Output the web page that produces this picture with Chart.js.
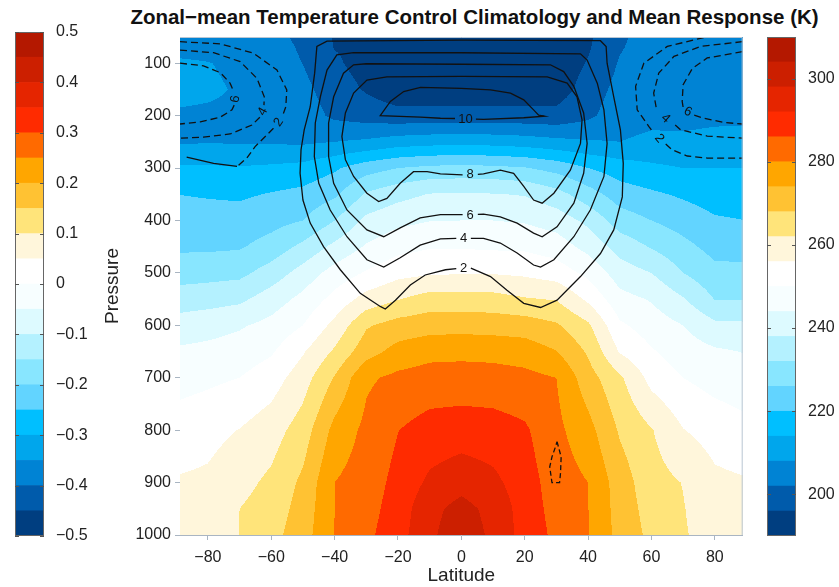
<!DOCTYPE html>
<html><head><meta charset="utf-8">
<script src="https://cdn.jsdelivr.net/npm/chart.js@4.4.1/dist/chart.umd.min.js"></script>
<style>
html,body{margin:0;padding:0;background:#fff;width:839px;height:587px;overflow:hidden;font-family:"Liberation Sans",Arial,sans-serif}
#title{position:absolute;left:0;top:5px;width:949px;text-align:center;font-weight:bold;font-size:20.5px;line-height:24px;color:#111;white-space:nowrap}
canvas{position:absolute;top:0}
</style></head><body>
<div id="title">Zonal−mean Temperature Control Climatology and Mean Response (K)</div>
<canvas id="cbL" width="100" height="587" style="left:0;width:100px;height:587px"></canvas>
<canvas id="main" width="747" height="587" style="left:92px;width:747px;height:587px"></canvas>
<canvas id="cbR" width="82" height="587" style="left:757px;width:82px;height:587px"></canvas>
<script>
// ---------- data ----------
const lats = [-90,-80,-70,-60,-50,-40,-30,-20,-10,0,10,20,30,40,50,60,70,80,90];
const levels = [50,70,100,150,200,250,300,350,400,450,500,550,600,650,700,800,900,950,1000];
// zonal-mean temperature (K) per latitude, values at each pressure level above
const tS90 = [205,206,209,209.7,207.3,207.4,215,220,222.5,225,229.3,235,240.5,244.9,247.7,252.8,256.5,257.2,258];
const tS80 = [205,206,208.2,209,207,207.6,214.8,219.5,222.4,225,229.8,235.7,241.6,245.7,248.8,254.1,257.1,258.1,259];
const tS70 = [204.5,205.5,206.8,207.4,207,207.5,214.5,219.1,222.4,225.4,230.4,236.7,243.3,246.8,250,256.2,260.1,262,262.1];
const tS60 = [204,204.5,205,205.5,206,207.3,215.1,220.4,223.9,228.4,234.7,241,245.8,249.3,253.1,259.3,263.3,264.7,266];
const tS50 = [200.5,201.2,201.9,203.6,205,207,216,221.7,226,233.5,240.4,245.7,250,255.4,259.3,264.9,269.3,270.4,271.4];
const tS40 = [195.5,195.8,197,199,200.8,208,219.1,224.9,232,239.5,246.4,251.9,257.7,262.9,268.5,275.9,280,280,280.1];
const tS30 = [195.5,194.5,193.5,195.4,199.3,209,223.4,232.8,239.5,244.6,250.6,258.3,267.3,271.6,279,281.5,283,283.8,284.6];
const tS20 = [194,193,191.3,192.3,198,211,226,236,242.4,248,254.1,261.7,270.5,276.1,281.4,285.9,287.8,288.7,289.6];
const tS10 = [194,193,191,192,198.2,211.8,227.4,238.3,243.8,249.5,255.2,264.6,271.6,278.1,282.6,288.3,293.2,296.3,296.9];
const tEQ  = [194,193,191,192,198.3,212,227.8,238.5,244,249.5,255.6,264.5,271.8,278.4,282.7,288.9,295.9,300,301.5];
const tN10 = [194,193,191,192,198.2,211.8,227.4,238.3,244,249.1,255.6,264.2,271.5,278.1,282.5,288.5,293.5,296.2,296.8];
const tN20 = [194,193,191.3,192.3,198.1,211,226.4,237.6,243.4,248.9,254.9,262.5,271.1,277.2,281.7,286.9,288.8,289.3,289.7];
const tN30 = [195,193.5,192,193,197.8,209.7,223.9,234.3,241.3,247.1,253.2,261.6,268.7,274.2,280,281.5,283.1,283.8,284.6];
const tN40 = [195,195.4,196.4,198.6,200.7,208.5,220,228.6,236.5,242,248.5,254.8,263.1,267.2,270.6,276.1,280,280.1,280.3];
const tN50 = [201,201.5,202.5,204,205.5,208,217,223,229,235.6,241,246,251,255.5,263.1,267.3,271,271.5,272];
const tN60 = [204.5,204.8,205,205.5,206.5,209.2,215.2,221,226,231.5,238,243.5,247.2,250.6,253.9,262.4,264.4,265.5,266.5];
const tN70 = [205,205.2,205.5,206,206.5,209,214,219.1,223.4,227.7,232,238.5,244,247,250,256.2,261.8,262.3,262.6];
const tN80 = [205,205.3,205.6,206.3,207,209.4,214,217.3,220.7,224,227.7,231.8,239.4,244.9,247.7,253.6,257.3,258.2,259.2];
const tN90 = [205,205.3,205.6,206.3,207,209.5,214,217,220,223.8,227.5,231.8,239,243.7,246.6,251.6,256.6,257.2,258];
const tempField = [tS90,tS80,tS70,tS60,tS50,tS40,tS30,tS20,tS10,tEQ,tN10,tN20,tN30,tN40,tN50,tN60,tN70,tN80,tN90];

// contour levels of the shading (K) and their colours
const tempEdges = [190,196,202,208,214,220,226,232,238,244,250,256,262,268,274,280,286,292,298,304,310];
const respEdges = [-0.5,-0.45,-0.4,-0.35,-0.3,-0.25,-0.2,-0.15,-0.1,-0.05,0,0.05,0.1,0.15,0.2,0.25,0.3,0.35,0.4,0.45,0.5];
const bandColors = ['#003e80','#005bab','#0083d4','#00a6ec','#00bfff','#62d4ff','#88e6ff','#b4f1ff','#ddfaff','#f7feff',
                    '#ffffff','#fff6db','#ffe47a','#ffc233','#ffa600','#ff6a00','#ff2b00','#e52500','#cc1f00','#b41800'];

// tick labels
const latTicks = [-80,-60,-40,-20,0,20,40,60,80];
const presTicks = [100,200,300,400,500,600,700,800,900,1000];
const tempTicks = [200,220,240,260,280,300];
const respTicks = [-0.5,-0.4,-0.3,-0.2,-0.1,0,0.1,0.2,0.3,0.4,0.5];

// mean response contours: [latitude, pressure]; null = break for a label
const resp10 = [[4.6,206.5],[7,207],[19.7,204],[26.2,201],[24.4,199],[22.8,189],[19.7,170],[15.5,157],[9.2,151],[0,148],[-12.9,146],[-18.2,154],[-22.4,173],[-25.6,200],[-12.9,203],[-6.6,205],[-2,205.5]];
const resp8 = [[5.2,312],[7,311],[12.3,304],[16.5,310],[19.7,335],[22.8,361],[25.5,367],[29.2,348],[34.4,304],[37.6,253],[38.1,208],[36.5,164],[33.4,138],[27.1,126],[0,125],[-23.5,126],[-29.8,132],[-34,157],[-36.6,195],[-37.7,240],[-36.6,284],[-34,316],[-29.8,348],[-26.1,364],[-23.5,358],[-19.3,329],[-15.1,307],[-10.8,307],[-6.6,311],[0.4,313]];
const resp6 = [[5.2,388.5],[7,388],[12.3,393],[17.6,405],[22.8,424],[25.5,431],[30.2,412],[35.5,367],[38.6,310],[39.7,253],[38.6,195],[35.5,144],[32.3,116],[28.1,103],[0,102],[-30,101],[-34,103],[-37.2,119],[-40.3,164],[-41.9,214],[-41.9,278],[-40.3,329],[-36.1,380],[-29.8,418],[-24.5,431],[-19.3,414],[-13,395],[-6.6,389],[0.4,389]];
const resp4 = [[3,434],[7,434],[12.3,443],[17.6,462],[22.8,485],[25,489],[29.2,475],[35.5,431],[40.7,380],[45,316],[46,253],[45,189],[42.9,138],[39.7,94],[37.6,82],[0,80],[-34,80],[-39.3,84],[-42.4,113],[-44.5,164],[-46.1,214],[-46.4,278],[-45,329],[-41.4,380],[-36.1,431],[-29.8,475],[-24.5,489],[-19.3,471],[-13,447],[-6.6,435],[-1.6,434]];
const resp2 = [[3,491],[9.2,507],[14.4,533],[19.7,558],[25,566],[30.2,552],[37.6,507],[43.9,463],[48.1,418],[50.8,355],[51.1,291],[50.2,227],[48.1,164],[46,100],[45.7,68],[43.9,57],[0,56],[-42.4,58],[-45.6,68],[-46.3,119],[-47.7,183],[-49.6,227],[-50.6,265],[-50.9,310],[-50,361],[-47.7,405],[-43.5,450],[-38.2,494],[-31.9,539],[-25.6,564],[-24,569],[-20.8,552],[-16.1,523],[-11.4,504],[-5,494],[-1.6,492]];
const respM6S = [[-88.8,100],[-81.4,105],[-76.1,118],[-73,138],[-71.8,155],null,[-71.7,180],[-72.4,189],[-76.1,203],[-82.4,212],[-88.8,216]];
const respM4S = [[-88.8,75],[-78.2,80],[-69.8,97],[-64.5,129],[-62.2,164],[-62.3,180],null,[-63.6,203],[-66.1,218],[-73,235],[-81.4,241],[-88.8,243]];
const respM2S = [[-88.8,59],[-76.1,63],[-65.6,81],[-58.2,113],[-55.1,151],[-55.4,183],[-56.4,200],null,[-59.3,224],[-61.4,237],[-65.1,259],[-67.7,281],[-70.8,297]];
const respM2Sb = [[-70.8,297],[-78.2,291],[-86.7,279]];
const respM6N = [[88.7,78],[77.6,90],[72.9,110],[70,141],[69.7,173],[70,184],null,[73.5,199],[76.5,205],[82.8,213],[88.7,216]];
const respM4N = [[88.7,59],[75.5,68],[67.1,87],[62.3,119],[60.7,157],[61.5,185],null,[67.5,218],[69.2,227],[77.6,239],[88.7,243]];
const respM2N = [[76.5,51],[65,68],[57.6,100],[55,144],[55.5,189],[59.2,221],[60.5,231],null,[64.5,254],[66.5,265],[71.3,277],[77.6,281],[88.7,281]];
const respM2Low = [[30.2,822],[31.5,851],[31.3,882],[31,900],[28.6,900],[27.9,870],[28.6,851],[29.7,832],[30.2,822]];
const contourLabels = [
  {text:'10',lat:1.3,p:206},{text:'8',lat:2.8,p:312},{text:'6',lat:2.8,p:389},{text:'4',lat:0.7,p:434},{text:'2',lat:0.7,p:491},
  {text:'6',lat:-71.5,p:168,rot:-80},{text:'4',lat:-62.8,p:192,rot:-62},{text:'2',lat:-57.8,p:212,rot:-55},
  {text:'6',lat:71.6,p:192,rot:28},{text:'4',lat:64.6,p:205,rot:42},{text:'2',lat:62.6,p:243,rot:50}
];

// ---------- helpers ----------
const FONT = "'Liberation Sans', Arial, sans-serif";
const minus = s => String(s).replace('-', '\u2212');
function hexRgb(h){return [parseInt(h.slice(1,3),16),parseInt(h.slice(3,5),16),parseInt(h.slice(5,7),16)];}
const bandRgb = bandColors.map(hexRgb);
function bandOf(t){
  for (let k=1;k<tempEdges.length;k++){ if (t < tempEdges[k]) return Math.max(0,k-1); }
  return tempEdges.length-2;
}
function toPts(arr){
  const out=[]; let last=[0,0];
  arr.forEach(q=>{ if(q===null){out.push({x:last[0],y:null});} else {out.push({x:q[0],y:q[1]}); last=q;} });
  return out;
}

const fieldPlugin = {
  id:'field',
  beforeDatasetsDraw(chart){
    const {ctx, chartArea:a, scales:{x,y}} = chart;
    const L=Math.round(a.left), T=Math.round(a.top);
    const w=Math.round(a.right)-L, h=Math.round(a.bottom)-T;
    const img = ctx.createImageData(w,h);
    const ci=[], cf=[];
    for(let i=0;i<w;i++){
      const lat=x.getValueForPixel(L+i+0.5);
      let k=0; while(k<lats.length-2 && lat>lats[k+1]) k++;
      ci.push(k); cf.push((lat-lats[k])/(lats[k+1]-lats[k]));
    }
    for(let j=0;j<h;j++){
      const p=y.getValueForPixel(T+j+0.5);
      let m=0; while(m<levels.length-2 && p>levels[m+1]) m++;
      const fy=(p-levels[m])/(levels[m+1]-levels[m]);
      for(let i=0;i<w;i++){
        const c0=tempField[ci[i]], c1=tempField[ci[i]+1];
        const v0=c0[m]*(1-fy)+c0[m+1]*fy, v1=c1[m]*(1-fy)+c1[m+1]*fy;
        const t=v0*(1-cf[i])+v1*cf[i];
        const rgb=bandRgb[bandOf(t)];
        const o=(j*w+i)*4;
        img.data[o]=rgb[0]; img.data[o+1]=rgb[1]; img.data[o+2]=rgb[2]; img.data[o+3]=255;
      }
    }
    ctx.putImageData(img,L,T);
  },
  afterDatasetsDraw(chart){
    const {ctx, chartArea:a, scales:{x,y}} = chart;
    ctx.save();
    ctx.font = "13px "+FONT; ctx.fillStyle='#111'; ctx.textAlign='center'; ctx.textBaseline='middle';
    contourLabels.forEach(l=>{
      ctx.save();
      ctx.translate(x.getPixelForValue(l.lat), y.getPixelForValue(l.p));
      if(l.rot) ctx.rotate(l.rot*Math.PI/180);
      ctx.fillText(l.text,0,0.5);
      ctx.restore();
    });
    ctx.strokeStyle='#b9c6d3'; ctx.lineWidth=1;
    ctx.beginPath(); ctx.moveTo(a.left,a.top+0.5); ctx.lineTo(a.right-0.5,a.top+0.5); ctx.lineTo(a.right-0.5,a.bottom); ctx.stroke();
    ctx.restore();
  }
};

function lineDs(arr, dashed, dash){
  return {data:toPts(arr), showLine:true, pointRadius:0, borderColor:'#111', borderWidth:1.3,
          borderDash: dashed ? (dash||[7,4]) : [], spanGaps:false, fill:false, tension:0};
}

const axisColor = '#a9b5c2';
new Chart(document.getElementById('main'), {
  type:'scatter',
  data:{datasets:[
    lineDs(resp10), lineDs(resp8), lineDs(resp6), lineDs(resp4), lineDs(resp2),
    lineDs(respM6S,true), lineDs(respM4S,true), lineDs(respM2S,true), lineDs(respM2Sb,false),
    lineDs(respM6N,true), lineDs(respM4N,true), lineDs(respM2N,true), lineDs(respM2Low,true,[5,3])
  ]},
  options:{
    responsive:false, animation:false, events:[],
    layout:{padding:{left:0,right:96.3,top:37,bottom:0}},
    plugins:{legend:{display:false}, tooltip:{enabled:false}},
    scales:{
      x:{type:'linear', min:-88.8, max:88.8,
         afterBuildTicks(s){ s.ticks = latTicks.map(v=>({value:v})); },
         afterFit(s){ s.height = 52; },
         ticks:{font:{size:16,family:FONT}, color:'#222', padding:8, maxRotation:0, callback:v=>minus(v)},
         grid:{drawOnChartArea:false, drawTicks:true, tickLength:5, color:axisColor},
         border:{display:true, color:axisColor},
         title:{display:true, text:'Latitude', font:{size:19,family:FONT}, color:'#222', padding:{top:0,bottom:0}}},
      y:{type:'linear', reverse:true, min:50, max:1000,
         afterBuildTicks(s){ s.ticks = presTicks.map(v=>({value:v})); },
         afterFit(s){ s.width = 88; },
         ticks:{font:{size:16,family:FONT}, color:'#222', padding:4, callback:v=>String(v)},
         grid:{drawOnChartArea:false, drawTicks:true, tickLength:5, color:axisColor},
         border:{display:true, color:axisColor},
         title:{display:true, text:'Pressure', font:{size:19,family:FONT}, color:'#222', padding:{top:9,bottom:0}}}
    }
  },
  plugins:[fieldPlugin]
});

// ---------- colour bars ----------
const cbFrame = {
  id:'cbFrame',
  afterDraw(chart){
    const {ctx, chartArea:a} = chart; const s = chart.scales.y;
    ctx.save(); ctx.strokeStyle='#666'; ctx.lineWidth=1;
    ctx.strokeRect(Math.round(a.left)+0.5, Math.round(a.top)+0.5, Math.round(a.right-a.left)-1, Math.round(a.bottom-a.top)-1);
    ctx.strokeStyle='#555';
    s.ticks.forEach(t=>{
      const py=Math.round(s.getPixelForValue(t.value))+0.5;
      ctx.beginPath(); ctx.moveTo(a.left,py); ctx.lineTo(a.left+4,py);
      ctx.moveTo(a.right-4,py); ctx.lineTo(a.right,py); ctx.stroke();
    });
    ctx.restore();
  }
};
function colorBar(id, edges, ticks, pad, axisW, fmt){
  new Chart(document.getElementById(id), {
    type:'bar',
    data:{labels:['c'], datasets: bandColors.map((c,i)=>({data:[[edges[i],edges[i+1]]], backgroundColor:c, borderWidth:0,
           barPercentage:1, categoryPercentage:1, grouped:false}))},
    options:{
      responsive:false, animation:false, events:[],
      layout:{padding:pad},
      plugins:{legend:{display:false}, tooltip:{enabled:false}},
      scales:{
        x:{display:false},
        y:{position:'right', min:edges[0], max:edges[edges.length-1],
           afterBuildTicks(s){ s.ticks = ticks.map(v=>({value:v})); },
           afterFit(s){ s.width = axisW; },
           ticks:{font:{size:16,family:FONT}, color:'#222', padding:4, callback:fmt},
           grid:{display:false}, border:{display:false}}
      }
    },
    plugins:[cbFrame]
  });
}
colorBar('cbL', respEdges, respTicks, {left:15,right:0,top:32,bottom:51}, 56, v=> v===0 ? '0' : minus(v.toFixed(1)));
colorBar('cbR', tempEdges, tempTicks, {left:10,right:0,top:37,bottom:51}, 43, v=> String(v));
</script>
</body></html>
